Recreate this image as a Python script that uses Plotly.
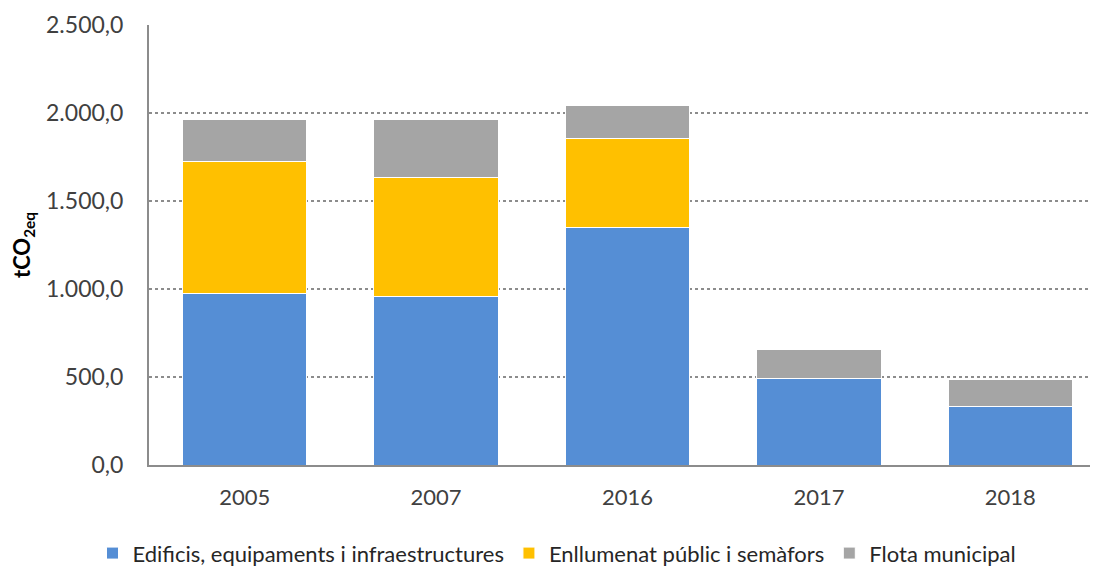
import plotly.graph_objects as go

years = ["2005", "2007", "2016", "2017", "2018"]
edificis = [976, 958, 1347, 493, 331]
enllumenat = [750, 678, 509, 0, 0]
flota = [238, 328, 184, 166, 156]

fig = go.Figure()

fig.add_trace(go.Bar(x=years, y=edificis, name="Edificis, equipaments i infraestructures",
                     marker=dict(color="#558ED5", line=dict(color="white", width=1))))
fig.add_trace(go.Bar(x=years, y=enllumenat, name="Enllumenat públic i semàfors",
                     marker=dict(color="#FFC000", line=dict(color="white", width=1))))
fig.add_trace(go.Bar(x=years, y=flota, name="Flota municipal",
                     marker=dict(color="#A5A5A5", line=dict(color="white", width=1))))

# page body has an 8px margin, so plot margins are shifted accordingly
fig.update_layout(
    barmode="stack",
    bargap=0.35,
    width=1098, height=568,
    margin=dict(l=141, r=0, t=17, b=111, autoexpand=False),
    plot_bgcolor="white",
    paper_bgcolor="white",
    separators=",.",
    font=dict(family="Lato, Open Sans, sans-serif", color="#404040", size=20),
    legend=dict(orientation="h", xref="container", x=0.5, xanchor="center",
                yref="container", y=0.04, yanchor="middle",
                font=dict(size=22, color="#262626"), traceorder="normal",
                itemwidth=30),
)

fig.update_xaxes(
    type="category", range=[-0.5, 4.5], automargin=False,
    showline=True, linecolor="#8C8C8C", linewidth=2,
    ticks="", ticklabelstandoff=12, tickfont=dict(size=22, color="#404040"),
)
fig.update_yaxes(
    range=[0, 2500], dtick=500, tickformat=",.1f", automargin=False,
    showgrid=True, gridcolor="#8C8C8C", griddash="dot", gridwidth=1.5,
    showline=True, linecolor="#8C8C8C", linewidth=2,
    ticks="", ticklabelstandoff=19, zeroline=False,
    tickfont=dict(size=23, color="#404040"),
    title=dict(text="<b>tCO<sub>2eq</sub></b>", font=dict(size=22, color="#000000"), standoff=10),
)

fig.write_html("out.html")
